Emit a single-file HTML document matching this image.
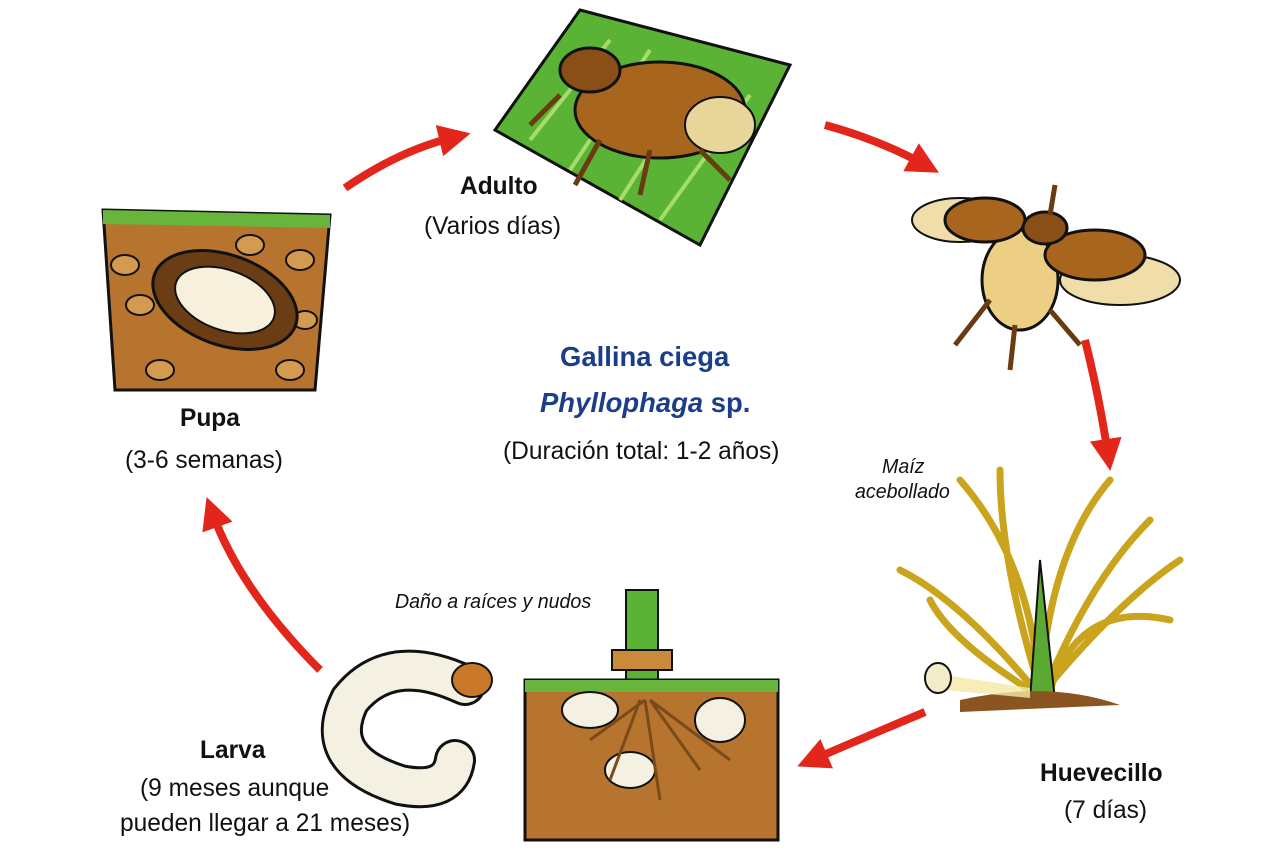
<!DOCTYPE html>
<html><head><meta charset="utf-8"><style>
html,body{margin:0;padding:0;background:#fff;}
body{width:1280px;height:853px;overflow:hidden;position:relative;font-family:"Liberation Sans",Arial,sans-serif;}
.t{position:absolute;font-size:25px;color:#111;white-space:nowrap;transform-origin:0 0;transform:scaleX(0.98);}
.b{font-weight:bold;}
.i{font-style:italic;font-size:20px;}
.blue{color:#1b3e8a;font-weight:bold;font-size:28px;}
svg{position:absolute;left:0;top:0;}
</style></head><body>
<svg width="1280" height="853" viewBox="0 0 1280 853">
<defs>
<marker id="ah" markerWidth="4" markerHeight="4" refX="2" refY="2" orient="auto" markerUnits="strokeWidth">
<path d="M0,0 L4,2 L0,4 z" fill="#e2261c"/></marker>
</defs>
<g stroke="#e2261c" stroke-width="8" fill="none" marker-end="url(#ah)">
<path d="M345,188 Q400,150 455,137"/>
<path d="M825,125 Q880,140 925,165"/>
<path d="M1085,340 Q1100,400 1108,455"/>
<path d="M925,712 Q870,735 812,760"/>
<path d="M320,670 Q240,590 212,512"/>
</g>
<path d="M495,130 L580,10 L790,65 L700,245 Z" fill="#5bb336" stroke="#111" stroke-width="3"/>
<path d="M530,140 L610,40 M570,170 L650,50 M620,200 L700,75 M660,220 L750,95" stroke="#a6dc6a" stroke-width="4"/>
<ellipse cx="660" cy="110" rx="85" ry="48" fill="#a8651e" stroke="#111" stroke-width="3"/>
<ellipse cx="590" cy="70" rx="30" ry="22" fill="#8a4f17" stroke="#111" stroke-width="3"/>
<ellipse cx="720" cy="125" rx="35" ry="28" fill="#e8d59a" stroke="#111" stroke-width="2"/>
<path d="M560,95 L530,125 M600,140 L575,185 M650,150 L640,195 M700,150 L730,180" stroke="#6a3b10" stroke-width="5"/>
<ellipse cx="960" cy="220" rx="48" ry="22" fill="#f0deaa" stroke="#111" stroke-width="2"/>
<ellipse cx="1120" cy="280" rx="60" ry="25" fill="#f0deaa" stroke="#111" stroke-width="2"/>
<ellipse cx="1020" cy="280" rx="38" ry="50" fill="#eccf85" stroke="#111" stroke-width="3"/>
<ellipse cx="985" cy="220" rx="40" ry="22" fill="#a8651e" stroke="#111" stroke-width="3"/>
<ellipse cx="1095" cy="255" rx="50" ry="25" fill="#a8651e" stroke="#111" stroke-width="3"/>
<ellipse cx="1045" cy="228" rx="22" ry="16" fill="#8a4f17" stroke="#111" stroke-width="3"/>
<path d="M990,300 L955,345 M1015,325 L1010,370 M1050,310 L1080,345 M1050,215 L1055,185" stroke="#6a3b10" stroke-width="5"/>
<path d="M103,210 L330,215 L315,390 L115,390 Z" fill="#b7742e" stroke="#111" stroke-width="3"/>
<path d="M103,210 L330,215 L330,228 L103,224 Z" fill="#67b53a"/>
<g fill="#d49a4f" stroke="#111" stroke-width="2">
<ellipse cx="125" cy="265" rx="14" ry="10"/><ellipse cx="140" cy="305" rx="14" ry="10"/><ellipse cx="300" cy="260" rx="14" ry="10"/><ellipse cx="290" cy="370" rx="14" ry="10"/><ellipse cx="160" cy="370" rx="14" ry="10"/><ellipse cx="250" cy="245" rx="14" ry="10"/><ellipse cx="305" cy="320" rx="12" ry="9"/>
</g>
<ellipse cx="225" cy="300" rx="75" ry="45" transform="rotate(20 225 300)" fill="#6b3d14" stroke="#111" stroke-width="3"/>
<ellipse cx="225" cy="300" rx="52" ry="30" transform="rotate(20 225 300)" fill="#f6f0dc" stroke="#111" stroke-width="2"/>
<g stroke="#c9a41c" stroke-width="7" fill="none" stroke-linecap="round">
<path d="M1040,690 Q1030,560 960,480 M1040,690 Q1050,550 1110,480 M1035,690 Q960,600 900,570 M1045,690 Q1120,600 1180,560 M1040,690 Q1000,560 1000,470 M1045,690 Q1090,580 1150,520 M1050,690 Q1080,600 1170,620 M1030,690 Q950,640 930,600"/>
</g>
<path d="M1030,700 L1040,560 L1055,700 Z" fill="#5ba832" stroke="#111" stroke-width="2"/>
<path d="M960,700 Q1050,680 1120,705 L960,712 Z" fill="#8a5520"/>
<polygon points="945,675 1030,688 1030,698 945,690" fill="#f4e8a8" opacity="0.8"/>
<ellipse cx="938" cy="678" rx="13" ry="15" fill="#f4ebc8" stroke="#111" stroke-width="2"/>
<path d="M465,685 Q390,650 350,700 Q320,760 400,785 Q450,795 455,760" fill="none" stroke="#111" stroke-width="42" stroke-linecap="round"/>
<path d="M465,685 Q390,650 350,700 Q320,760 400,785 Q450,795 455,760" fill="none" stroke="#f4f0e2" stroke-width="36" stroke-linecap="round"/>
<ellipse cx="472" cy="680" rx="20" ry="17" fill="#c9782a" stroke="#111" stroke-width="2"/>
<rect x="626" y="590" width="32" height="100" fill="#5bb336" stroke="#111" stroke-width="2"/>
<rect x="612" y="650" width="60" height="20" fill="#c98a3c" stroke="#111" stroke-width="2"/>
<path d="M525,680 L778,680 L778,840 L525,840 Z" fill="#b7742e" stroke="#111" stroke-width="3"/>
<rect x="525" y="680" width="253" height="12" fill="#67b53a"/>
<g fill="#f4f0e2" stroke="#111" stroke-width="2">
<ellipse cx="590" cy="710" rx="28" ry="18"/><ellipse cx="720" cy="720" rx="25" ry="22"/><ellipse cx="630" cy="770" rx="25" ry="18"/>
</g>
<path d="M640,700 L610,780 M645,700 L660,800 M650,700 L700,770 M645,700 L590,740 M650,700 L730,760" stroke="#7a4a18" stroke-width="3"/>
</svg>
<div class="t b" style="left:460px;top:172px;">Adulto</div>
<div class="t" style="left:424px;top:212px;">(Varios días)</div>
<div class="t blue" style="left:560px;top:341px;">Gallina ciega</div>
<div class="t blue" style="left:540px;top:387px;font-style:italic;">Phyllophaga <span style="font-style:normal">sp.</span></div>
<div class="t" style="left:503px;top:437px;">(Duración total: 1-2 años)</div>
<div class="t b" style="left:180px;top:404px;">Pupa</div>
<div class="t" style="left:125px;top:446px;">(3-6 semanas)</div>
<div class="t b" style="left:200px;top:736px;">Larva</div>
<div class="t" style="left:140px;top:774px;">(9 meses aunque</div>
<div class="t" style="left:120px;top:809px;">pueden llegar a 21 meses)</div>
<div class="t b" style="left:1040px;top:759px;">Huevecillo</div>
<div class="t" style="left:1064px;top:796px;">(7 días)</div>
<div class="t i" style="left:882px;top:456px;">Maíz</div>
<div class="t i" style="left:855px;top:481px;">acebollado</div>
<div class="t i" style="left:395px;top:591px;">Daño a raíces y nudos</div>
</body></html>
